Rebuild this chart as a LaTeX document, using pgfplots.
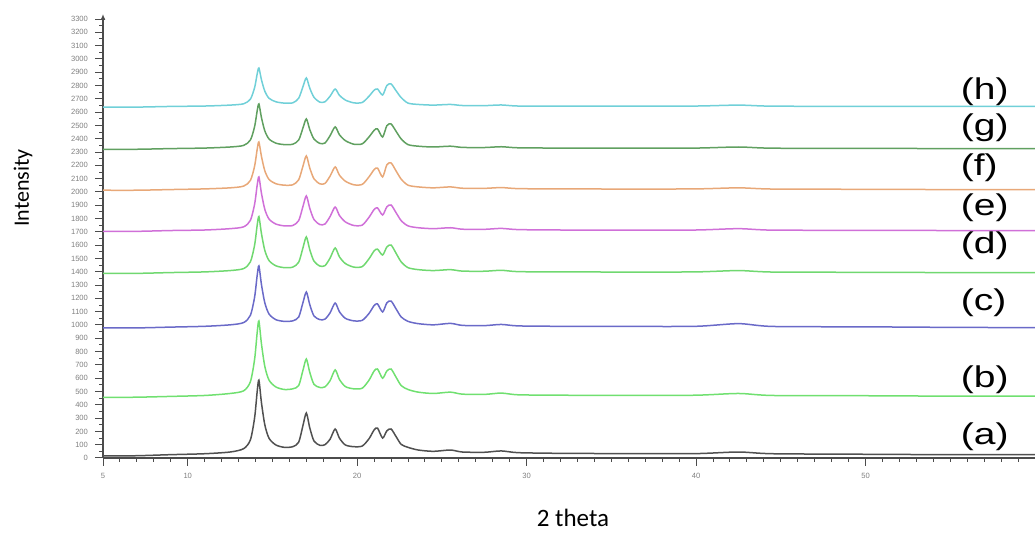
\documentclass[border=0pt]{standalone}
\usepackage{pgfplots}
\pgfplotsset{compat=1.18}
\usepackage{fontspec}
\setmainfont{Liberation Sans}
\newfontfamily\calfont{Carlito}
\usetikzlibrary{arrows.meta}
\definecolor{ca}{HTML}{505050}
\definecolor{cb}{HTML}{70E070}
\definecolor{cc}{HTML}{6A6AC8}
\definecolor{cd}{HTML}{70D870}
\definecolor{ce}{HTML}{D070D8}
\definecolor{cf}{HTML}{E8A878}
\definecolor{cg}{HTML}{60A060}
\definecolor{ch}{HTML}{70D0D8}
\begin{document}
\begin{tikzpicture}
\useasboundingbox (-51.5pt,-37.5pt) rectangle (466pt,229pt);
\begin{axis}[
 at={(0,0)}, anchor=south west, scale only axis, width=466pt, height=222pt,
 xmin=5, xmax=60, ymin=0, ymax=3338,
 axis lines=left, axis line style={gray!60!black, line width=0.6pt},
 x axis line style={-}, y axis line style={-{Latex[length=3pt,width=2.5pt]}},
 xtick={5,10,20,30,40,50}, minor xtick={6,...,59},
 ytick={0,100,...,3300}, minor ytick={50,150,...,3250},
 tick align=outside, major tick length=4pt, minor tick length=2pt,
 tick style={gray!60!black, line width=0.5pt},
 ticklabel style={font=\fontsize{3.8}{3.8}\selectfont, text=gray},
 /pgf/number format/assume math mode=true,
 /pgf/number format/1000 sep={},
 clip=false,
 every axis plot/.append style={line width=0.75pt, smooth, tension=0.45},
]
% (a)
\addplot[ca] coordinates {(5,15)(7,17)(9,25)(11,32)(12.5,45)(13.3,70)(13.7,137)(13.95,305)(14.1,501)(14.2,585)(14.35,417)(14.55,249)(14.8,148)(15.2,98)(15.7,80)(16.2,85)(16.55,119)(16.8,244)(17.0,338)(17.2,228)(17.45,128)(17.8,95)(18.1,100)(18.4,141)(18.7,218)(18.95,150)(19.3,98)(19.8,85)(20.3,90)(20.7,145)(21.0,211)(21.2,225)(21.5,150)(21.75,204)(22.0,218)(22.3,160)(22.6,102)(23.0,80)(23.6,60)(24.5,50)(25.5,60)(26.2,45)(27.5,43)(28.5,53)(29.5,40)(32,35)(36,33)(40,33)(42.5,45)(44.5,32)(50,28)(55,25)(60,25)};
% (b)
\addplot[cb] coordinates {(5,455)(7,457)(9,463)(11,470)(12.5,485)(13.3,505)(13.7,574)(13.95,745)(14.1,945)(14.2,1030)(14.35,859)(14.55,688)(14.8,585)(15.2,534)(15.7,515)(16.2,520)(16.55,545)(16.8,659)(17.0,744)(17.2,645)(17.45,554)(17.8,530)(18.1,535)(18.4,581)(18.7,662)(18.95,591)(19.3,537)(19.8,520)(20.3,525)(20.7,585)(21.0,654)(21.2,669)(21.5,600)(21.75,654)(22.0,669)(22.3,606)(22.6,544)(23.0,515)(23.6,495)(24.5,485)(25.5,495)(26.2,480)(27.5,478)(28.5,488)(29.5,475)(32,472)(36,470)(40,472)(42.5,485)(44.5,470)(50,468)(55,465)(60,465)};
% (c)
\addplot[cc] coordinates {(5,978)(7,978)(9,984)(11,990)(12.5,1001)(13.3,1018)(13.7,1073)(13.95,1212)(14.1,1374)(14.2,1444)(14.35,1305)(14.55,1166)(14.8,1082)(15.2,1040)(15.7,1027)(16.2,1031)(16.55,1060)(16.8,1168)(17.0,1248)(17.2,1154)(17.45,1068)(17.8,1040)(18.1,1044)(18.4,1091)(18.7,1165)(18.95,1100)(19.3,1050)(19.8,1031)(20.3,1035)(20.7,1087)(21.0,1146)(21.2,1158)(21.5,1098)(21.75,1166)(22.0,1180)(22.3,1120)(22.6,1060)(23.0,1027)(23.6,1010)(24.5,1001)(25.5,1012)(26.2,997)(27.5,995)(28.5,1004)(29.5,993)(32,990)(36,989)(40,990)(42.5,1010)(44.5,989)(50,986)(55,982)(60,980)};
% (d)
\addplot[cd] coordinates {(5,1388)(7,1388)(9,1394)(11,1399)(12.5,1409)(13.3,1424)(13.7,1475)(13.95,1603)(14.1,1751)(14.2,1815)(14.35,1688)(14.55,1560)(14.8,1484)(15.2,1445)(15.7,1431)(16.2,1435)(16.55,1472)(16.8,1580)(17.0,1662)(17.2,1567)(17.45,1480)(17.8,1443)(18.1,1446)(18.4,1503)(18.7,1579)(18.95,1513)(19.3,1462)(19.8,1435)(20.3,1439)(20.7,1498)(21.0,1557)(21.2,1570)(21.5,1526)(21.75,1586)(22.0,1601)(22.3,1538)(22.6,1474)(23.0,1431)(23.6,1416)(24.5,1409)(25.5,1416)(26.2,1405)(27.5,1404)(28.5,1411)(29.5,1401)(32,1399)(36,1398)(40,1399)(42.5,1409)(44.5,1398)(50,1396)(55,1394)(60,1394)};
% (e)
\addplot[ce] coordinates {(5,1704)(7,1704)(9,1710)(11,1714)(12.5,1724)(13.3,1738)(13.7,1787)(13.95,1910)(14.1,2052)(14.2,2113)(14.35,1991)(14.55,1869)(14.8,1796)(15.2,1759)(15.7,1745)(16.2,1748)(16.55,1785)(16.8,1891)(17.0,1970)(17.2,1878)(17.45,1793)(17.8,1755)(18.1,1759)(18.4,1815)(18.7,1887)(18.95,1824)(19.3,1775)(19.8,1748)(20.3,1751)(20.7,1810)(21.0,1868)(21.2,1880)(21.5,1827)(21.75,1888)(22.0,1902)(22.3,1843)(22.6,1784)(23.0,1745)(23.6,1731)(24.5,1724)(25.5,1731)(26.2,1720)(27.5,1719)(28.5,1726)(29.5,1717)(32,1714)(36,1713)(40,1714)(42.5,1724)(44.5,1713)(50,1712)(55,1710)(60,1710)};
% (f)
\addplot[cf] coordinates {(5,2013)(7,2013)(9,2018)(11,2023)(12.5,2031)(13.3,2044)(13.7,2087)(13.95,2196)(14.1,2322)(14.2,2376)(14.35,2268)(14.55,2159)(14.8,2094)(15.2,2062)(15.7,2051)(16.2,2054)(16.55,2092)(16.8,2194)(17.0,2271)(17.2,2181)(17.45,2099)(17.8,2061)(18.1,2064)(18.4,2119)(18.7,2188)(18.95,2127)(19.3,2081)(19.8,2054)(20.3,2057)(20.7,2114)(21.0,2168)(21.2,2180)(21.5,2113)(21.75,2204)(22.0,2218)(22.3,2157)(22.6,2096)(23.0,2051)(23.6,2038)(24.5,2031)(25.5,2038)(26.2,2028)(27.5,2027)(28.5,2033)(29.5,2025)(32,2023)(36,2022)(40,2023)(42.5,2031)(44.5,2022)(50,2020)(55,2018)(60,2018)};
% (g)
\addplot[cg] coordinates {(5,2321)(7,2321)(9,2326)(11,2330)(12.5,2338)(13.3,2350)(13.7,2391)(13.95,2493)(14.1,2611)(14.2,2662)(14.35,2560)(14.55,2459)(14.8,2398)(15.2,2367)(15.7,2356)(16.2,2359)(16.55,2391)(16.8,2481)(17.0,2549)(17.2,2470)(17.45,2398)(17.8,2365)(18.1,2368)(18.4,2423)(18.7,2489)(18.95,2431)(19.3,2386)(19.8,2359)(20.3,2362)(20.7,2414)(21.0,2463)(21.2,2474)(21.5,2413)(21.75,2498)(22.0,2511)(22.3,2455)(22.6,2398)(23.0,2356)(23.6,2344)(24.5,2338)(25.5,2344)(26.2,2335)(27.5,2334)(28.5,2340)(29.5,2332)(32,2330)(36,2329)(40,2330)(42.5,2338)(44.5,2329)(50,2328)(55,2326)(60,2326)};
% (h)
\addplot[ch] coordinates {(5,2638)(7,2638)(9,2643)(11,2646)(12.5,2653)(13.3,2663)(13.7,2698)(13.95,2786)(14.1,2888)(14.2,2932)(14.35,2844)(14.55,2757)(14.8,2704)(15.2,2678)(15.7,2668)(16.2,2670)(16.55,2705)(16.8,2792)(17.0,2857)(17.2,2781)(17.45,2712)(17.8,2675)(18.1,2678)(18.4,2720)(18.7,2774)(18.95,2727)(19.3,2691)(19.8,2670)(20.3,2673)(20.7,2720)(21.0,2765)(21.2,2774)(21.5,2729)(21.75,2800)(22.0,2812)(22.3,2760)(22.6,2709)(23.0,2668)(23.6,2658)(24.5,2653)(25.5,2658)(26.2,2650)(27.5,2649)(28.5,2654)(29.5,2646)(32,2646)(36,2645)(40,2646)(42.5,2653)(44.5,2645)(50,2644)(55,2643)(60,2643)};
\begin{scope}[every node/.style={anchor=west, font=\fontsize{15}{15}\selectfont, inner sep=0pt}]
\node at (axis cs:55.6,2750) {\scalebox{1.3}[1]{(h)}};
\node at (axis cs:55.6,2480) {\scalebox{1.3}[1]{(g)}};
\node at (axis cs:55.6,2180) {\scalebox{1.3}[1]{(f)}};
\node at (axis cs:55.6,1880) {\scalebox{1.3}[1]{(e)}};
\node at (axis cs:55.6,1595) {\scalebox{1.3}[1]{(d)}};
\node at (axis cs:55.6,1170) {\scalebox{1.3}[1]{(c)}};
\node at (axis cs:55.6,586) {\scalebox{1.3}[1]{(b)}};
\node at (axis cs:55.6,158) {\scalebox{1.3}[1]{(a)}};
\end{scope}
\end{axis}
\node[rotate=90, font=\calfont\fontsize{11}{11}\selectfont] at (-40pt,135pt) {Intensity};
\node[font=\calfont\fontsize{12.5}{12.5}\selectfont] at (235pt,-30pt) {2 theta};
\end{tikzpicture}
\end{document}
